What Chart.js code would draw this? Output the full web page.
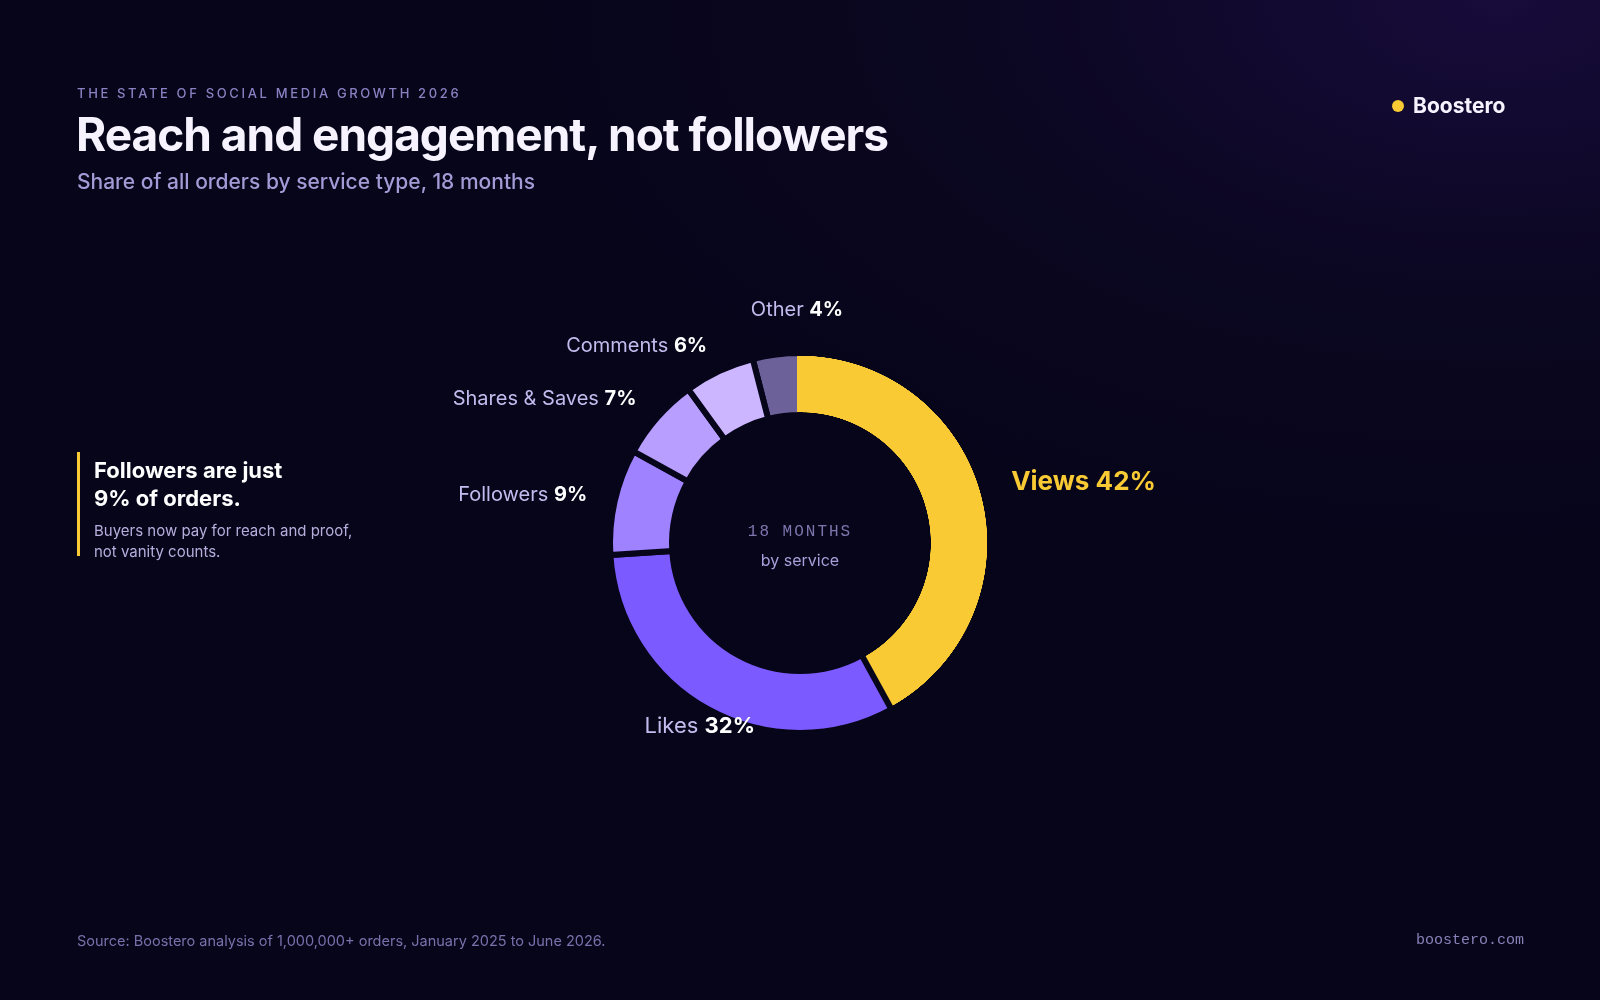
<!DOCTYPE html>
<html>
<head>
<meta charset="utf-8">
<script src="https://cdn.jsdelivr.net/npm/chart.js@4.4.1/dist/chart.umd.min.js"></script>
<style>
  html, body { margin: 0; padding: 0; }
  body {
    width: 1600px; height: 1000px; overflow: hidden; position: relative;
    font-family: Inter, "Noto Sans", sans-serif;
    background: #07051a;
  }
  .glow {
    position: absolute; inset: 0;
    background: radial-gradient(ellipse 1000px 560px at 1500px 0px, rgba(34, 16, 80, 0.6), rgba(18, 10, 46, 0.3) 55%, rgba(7, 5, 26, 0) 100%);
  }
  #chart { position: absolute; left: 0; top: 0; }
  .eyebrow {
    position: absolute; left: 77px; top: 85px;
    font-size: 13px; font-weight: 500; letter-spacing: 2.65px; color: #8b81c2; line-height: 16px;
  }
  h1 {
    position: absolute; left: 76px; top: 106px; margin: 0;
    font-size: 46px; font-weight: 700; letter-spacing: -1px; color: #f6f3ff; line-height: 56px;
  }
  .sub {
    position: absolute; left: 77px; top: 169px;
    font-size: 21px; font-weight: 500; color: #a39ad6; line-height: 26px;
  }
  .brand {
    position: absolute; left: 1392px; top: 93px;
    font-size: 21px; font-weight: 700; color: #f6f3ff; line-height: 26px;
  }
  .brand .dot {
    display: inline-block; width: 12px; height: 12px; border-radius: 50%;
    background: #f9ca33; margin-right: 9px; vertical-align: 1px;
  }
  .callout {
    position: absolute; left: 77px; top: 452px; height: 104px;
    border-left: 3px solid #f9ca33; padding-left: 14px; width: 320px;
  }
  .callout .head { font-size: 22px; font-weight: 700; color: #ffffff; line-height: 28px; margin-top: 4px; }
  .callout .body { font-size: 15px; color: #b7aedd; line-height: 21px; margin-top: 8px; }
  .center {
    position: absolute; left: 700px; width: 200px; text-align: center;
  }
  .center .mono {
    position: absolute; top: 522px; width: 200px;
    font-family: "Liberation Mono", "DejaVu Sans Mono", monospace; font-size: 16px;
    letter-spacing: 2px; color: #7f75ad; line-height: 20px;
  }
  .center .by {
    position: absolute; top: 550px; width: 200px;
    font-size: 16px; color: #a99fda; line-height: 20px;
  }
  .source {
    position: absolute; left: 77px; top: 932px;
    font-size: 14.5px; color: #7a70ab; line-height: 18px;
  }
  .site {
    position: absolute; right: 76px; top: 932px;
    font-family: "Liberation Mono", "DejaVu Sans Mono", monospace; font-size: 15px; color: #8a80b8; line-height: 18px;
  }
</style>
</head>
<body>
<div class="glow"></div>
<canvas id="chart" width="1600" height="1000"></canvas>

<div class="eyebrow">THE STATE OF SOCIAL MEDIA GROWTH 2026</div>
<h1>Reach and engagement, not followers</h1>
<div class="sub">Share of all orders by service type, 18 months</div>
<div class="brand"><span class="dot"></span>Boostero</div>

<div class="callout">
  <div class="head">Followers are just<br>9% of orders.</div>
  <div class="body">Buyers now pay for reach and proof,<br>not vanity counts.</div>
</div>

<div class="center" style="left:700px;top:0">
  <div class="mono">18 MONTHS</div>
  <div class="by">by service</div>
</div>

<div class="source">Source: Boostero analysis of 1,000,000+ orders, January 2025 to June 2026.</div>
<div class="site">boostero.com</div>

<script>
// ring order, clockwise, starting with "Other" just left of 12 o'clock
const services = ["Other", "Views", "Likes", "Followers", "Shares & Saves", "Comments"]
const shares = [4, 42, 32, 9, 7, 6]
const sliceColors = ["#6c6199", "#f9ca33", "#7b5bff", "#9e82ff", "#b79eff", "#cbb6ff"]

const BG = "#07051a"
const LEAD = 1          // Views, highlighted
const RADIUS = 190
const HOLE = 128
const GAP = 6

// dark borders make the gaps; Views keeps its edge at 12 o'clock so the ring closes there
function edgeColor(c) {
  const area = c.chart.chartArea
  if (c.dataIndex !== LEAD || !area) return BG
  const cx = (area.left + area.right) / 2
  const cy = (area.top + area.bottom) / 2
  const g = c.chart.ctx.createRadialGradient(cx, cy, 0, cx, cy, RADIUS + GAP)
  const a = (HOLE + GAP / 2) / (RADIUS + GAP)
  const b = (RADIUS - GAP / 2) / (RADIUS + GAP)
  g.addColorStop(0, BG)
  g.addColorStop(a - 0.002, BG)
  g.addColorStop(a, sliceColors[LEAD])
  g.addColorStop(b, sliceColors[LEAD])
  g.addColorStop(b + 0.002, BG)
  g.addColorStop(1, BG)
  return g
}

// outside labels: "Name" regular + "NN%" bold, placed from each arc's own geometry
const outsideLabels = {
  id: "outsideLabels",
  afterDatasetsDraw(chart) {
    const ctx = chart.ctx
    const arcs = chart.getDatasetMeta(0).data
    arcs.forEach((arc, i) => {
      const { x, y, startAngle, endAngle, outerRadius } = arc.getProps(["x", "y", "startAngle", "endAngle", "outerRadius"], true)
      const mid = (startAngle + endAngle) / 2
      const dx = Math.cos(mid)
      const dy = Math.sin(mid)
      const big = i === LEAD
      const size = big ? 26 : (i === LEAD + 1 ? 22 : 20)
      const nameFont = (big ? "700 " : "400 ") + size + "px Inter"
      const valFont = "700 " + size + "px Inter"
      const name = services[i] + " "
      const val = shares[i] + "%"

      let ax, ay, align
      if (dy < -0.95) {
        ax = x - 3; ay = y + dy * (outerRadius + 45); align = "center"
      } else if (dy > 0.8) {
        const r = outerRadius + 18
        ax = x + dx * r; ay = y + dy * r + 1; align = "center"
      } else {
        const r = outerRadius + 28
        ax = x + dx * r; ay = y + dy * r - (big ? 7 : 0); align = dx > 0 ? "left" : "right"
      }

      ctx.save()
      ctx.textBaseline = "middle"
      ctx.textAlign = "left"
      ctx.font = nameFont
      const w1 = ctx.measureText(name).width
      ctx.font = valFont
      const w2 = ctx.measureText(val).width
      const total = w1 + w2
      let left = ax
      if (align === "center") left = ax - total / 2
      if (align === "right") left = ax - total
      ctx.font = nameFont
      ctx.fillStyle = big ? sliceColors[LEAD] : "#c3bbee"
      ctx.fillText(name, left, ay)
      ctx.font = valFont
      ctx.fillStyle = big ? sliceColors[LEAD] : "#ffffff"
      ctx.fillText(val, left + w1, ay)
      ctx.restore()
    })
  }
}

const total = shares.reduce((a, b) => a + b, 0)

new Chart(document.getElementById("chart"), {
  type: "doughnut",
  data: {
    labels: services,
    datasets: [{
      data: shares,
      backgroundColor: sliceColors,
      borderColor: edgeColor,
      borderWidth: GAP
    }]
  },
  options: {
    responsive: false,
    animation: false,
    rotation: -360 * shares[0] / total,
    radius: RADIUS,
    cutout: (100 * HOLE / RADIUS) + "%",
    layout: { padding: { top: 86 } },
    plugins: {
      legend: { display: false },
      tooltip: { enabled: false }
    }
  },
  plugins: [outsideLabels]
})
</script>
</body>
</html>
